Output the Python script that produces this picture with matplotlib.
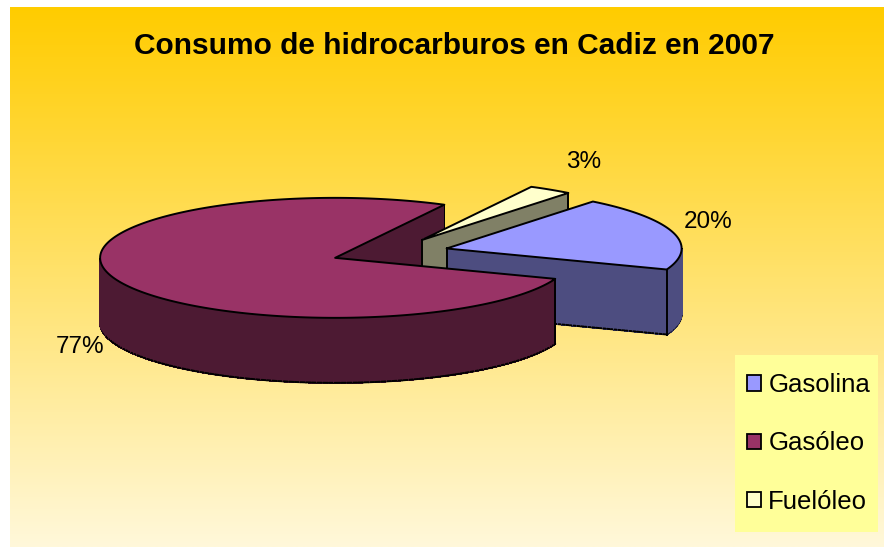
import matplotlib.pyplot as plt
import numpy as np
from matplotlib.patches import Polygon, Patch, Rectangle

# datos
categorias = ['Gasolina', 'Gasóleo', 'Fuelóleo']
valores = [20, 77, 3]
titulo = 'Consumo de hidrocarburos en Cadiz en 2007'

col_sup = ['#9999FF', '#993366', '#FFFFCC']
col_lado = ['#4D4D80', '#4D1A33', '#808066']

# geometria del pastel 3D (pixeles)
cx, cy = 390, 252.5
rx, ry = 235, 60
prof = 65
expl = 0.25
ang0 = 51.5
# posicion de las etiquetas (factor sobre el radio, en x y en y)
et_fx = [1.156, 1.16, 1.258]
et_fy = [1.67, 1.15, 1.555]

plt.rcParams['font.family'] = ['Liberation Sans', 'DejaVu Sans']
fig = plt.figure(figsize=(8.84, 5.47), dpi=100)
ax = fig.add_axes([0, 0, 1, 1])
ax.set_xlim(0, 884)
ax.set_ylim(547, 0)
ax.axis('off')

# fondo degradado
c1 = np.array([255, 204, 0]) / 255
c2 = np.array([255, 248, 218]) / 255
g = np.linspace(0, 1, 256)[:, None]
grad = (c1 + (c2 - c1) * g)[:, None, :].repeat(2, axis=1)
ax.imshow(grad, extent=[10, 884, 547, 7], aspect='auto', zorder=0)


def scr(p, z=0):
    return (cx + rx * p[0], cy - ry * p[1] + z)


zc = [10]


def nz():
    zc[0] += 1
    return zc[0]


tot = sum(valores)
start = ang0
tops, tiras, etiq = [], [], []
for i, v in enumerate(valores):
    span = 360 * v / tot
    a_hi, a_lo = start, start - span
    start = a_lo
    mid = np.radians((a_hi + a_lo) / 2)
    ox, oy = expl * np.cos(mid), expl * np.sin(mid)
    t = np.radians(np.linspace(a_lo, a_hi, 200))
    arco = [(ox + np.cos(a), oy + np.sin(a)) for a in t]
    tops.append(([(ox, oy)] + arco, col_sup[i]))

    # paredes radiales visibles
    for a, s in ((a_lo, -90), (a_hi, 90)):
        if np.sin(np.radians(a + s)) < 0:
            r = np.linspace(0, 1, 60)
            pts = [(ox + k * np.cos(np.radians(a)), oy + k * np.sin(np.radians(a))) for k in r]
            tiras.append((pts, col_lado[i]))
    # lado exterior visible (frente)
    run = []
    for a, p in zip(t, arco):
        if np.sin(a) < 0:
            run.append(p)
        elif run:
            tiras.append((run, col_lado[i]))
            run = []
    if run:
        tiras.append((run, col_lado[i]))

    lx, ly = scr((ox + et_fx[i] * np.cos(mid), oy + et_fy[i] * np.sin(mid)))
    if np.sin(mid) < 0:
        ly += prof
    etiq.append((lx, ly, f'{v}%'))

# dibujar paredes por tiras, del fondo al frente
segs = []
for pts, col in tiras:
    n = len(pts)
    for j in range(n - 1):
        p, q = pts[j], pts[j + 1]
        segs.append(((p[1] + q[1]) / 2, p, q, col, j == 0, j == n - 2))
segs.sort(key=lambda s: -s[0])
for _, p, q, col, first, last in segs:
    quad = [scr(p), scr(q), scr(q, prof), scr(p, prof)]
    ax.add_patch(Polygon(quad, closed=True, facecolor=col, edgecolor=col, lw=0.8,
                         antialiased=False, zorder=nz()))
    ax.plot([quad[2][0], quad[3][0]], [quad[2][1], quad[3][1]], color='black', lw=1.4,
            solid_capstyle='round', zorder=nz())
    if first:
        ax.plot([quad[0][0], quad[3][0]], [quad[0][1], quad[3][1]], color='black', lw=1.4, zorder=nz())
    if last:
        ax.plot([quad[1][0], quad[2][0]], [quad[1][1], quad[2][1]], color='black', lw=1.4, zorder=nz())

for pts, col in tops:
    ax.add_patch(Polygon([scr(p) for p in pts], closed=True, facecolor=col,
                         edgecolor='black', lw=1.4, joinstyle='round', zorder=nz()))

for lx, ly, s in etiq:
    ax.text(lx, ly, s, ha='center', va='center', fontsize=17.5, zorder=nz())

ax.text(454.5, 45.5, titulo, ha='center', va='center', fontsize=21.5, fontweight='bold', zorder=nz())

# leyenda
ax.add_patch(Rectangle((735, 355), 143, 177, facecolor='#FFFF99', edgecolor='none', zorder=nz()))
handles = [Patch(facecolor=c, edgecolor='black', lw=1.3) for c in col_sup]
leg = ax.legend(handles, categorias, loc='center left', bbox_to_anchor=(747 / 884, 1 - 443.5 / 547),
                bbox_transform=ax.transAxes, fontsize=18.5, frameon=False, labelspacing=1.34,
                borderpad=0, handlelength=0.53, handleheight=0.53, handletextpad=0.3,
                borderaxespad=0)
leg.set_zorder(nz())

fig.savefig('out.png', dpi=100)
